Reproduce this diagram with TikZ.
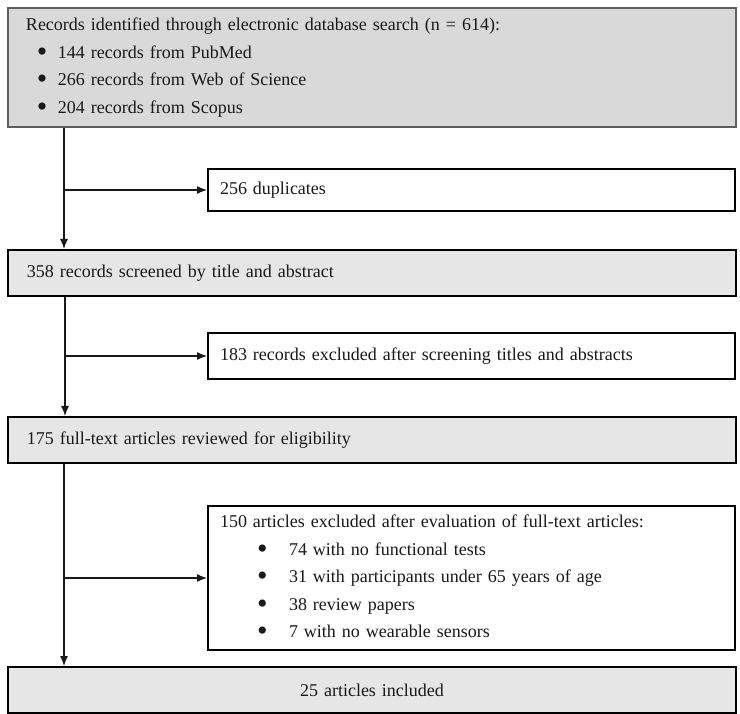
\documentclass[tikz,border=0pt]{standalone}
\usepackage{fontspec}
\setmainfont{Liberation Serif}
\usetikzlibrary{positioning}
\usetikzlibrary{arrows.meta}

\definecolor{boxgray}{RGB}{230,230,230}
\definecolor{topgray}{RGB}{217,217,217}
\definecolor{edgegray}{RGB}{95,95,95}
\definecolor{inkgray}{RGB}{25,25,25}
\newcommand{\bigbul}{\raisebox{-3.2pt}{\fontsize{30pt}{0pt}\selectfont\textbullet}}
\newcommand{\bul}[3]{\hspace*{#1}\makebox[#2][l]{\bigbul}#3}

\begin{document}
\begin{tikzpicture}[
  node distance=120pt and 0pt,
  txt/.style={text=inkgray, font=\fontsize{18pt}{27.5pt}\selectfont},
  topbox/.style={txt, draw=edgegray, line width=2pt, fill=topgray, text width=692pt, inner xsep=18pt, minimum height=119pt, align=left},
  mainbox/.style={txt, draw=black, line width=2pt, fill=boxgray, text width=690pt, inner xsep=19pt, minimum height=46pt, align=left},
  sidebox/.style={txt, draw=black, line width=2pt, fill=white, text width=503pt, inner xsep=12pt, minimum height=42pt, align=left},
  arr/.style={draw=inkgray, line width=1.2pt, -{Latex[length=10pt,width=8pt]}}
]

\useasboundingbox (0pt,0pt) rectangle (740pt,-714pt);

\node[topbox, anchor=north west] (recs) at (7pt,-7pt) {Records identified through electronic database search (n = 614):\\
\bul{11pt}{21pt}{144 records from PubMed}\\
\bul{11pt}{21pt}{266 records from Web of Science}\\
\bul{11pt}{21pt}{204 records from Scopus}};
\node[mainbox, below=121pt of recs] (screen) {358 records screened by title and abstract};
\node[mainbox, below=119pt of screen] (full) {175 full-text articles reviewed for eligibility};
\node[mainbox, below=202pt of full, align=center] (incl) {25 articles included};

\node[sidebox, below left=40pt and 1pt of recs.south east] (dup) {256 duplicates};
\node[sidebox, below left=35pt and 1pt of screen.south east, minimum height=46pt] (excl1) {183 records excluded after screening titles and abstracts};
\node[sidebox, below left=41pt and 1pt of full.south east, minimum height=144pt] (excl2) {150 articles excluded after evaluation of full-text articles:\\
\bul{37pt}{32pt}{74 with no functional tests}\\
\bul{37pt}{32pt}{31 with participants under 65 years of age}\\
\bul{37pt}{32pt}{38 review papers}\\
\bul{37pt}{32pt}{7 with no wearable sensors}};

\coordinate (t1) at ([xshift=57pt]recs.south west);
\coordinate (t2) at ([xshift=58pt]screen.south west);
\coordinate (t3) at ([xshift=57pt]full.south west);

\path (t1) edge[arr] (t1 |- screen.north)
(t1 |- dup.west) edge[arr] (dup.west)
(t2) edge[arr] (t2 |- full.north)
(t2 |- excl1.west) edge[arr] (excl1.west)
(t3) edge[arr] (t3 |- incl.north)
(t3 |- excl2.west) edge[arr] (excl2.west)
;

\end{tikzpicture}
\end{document}
